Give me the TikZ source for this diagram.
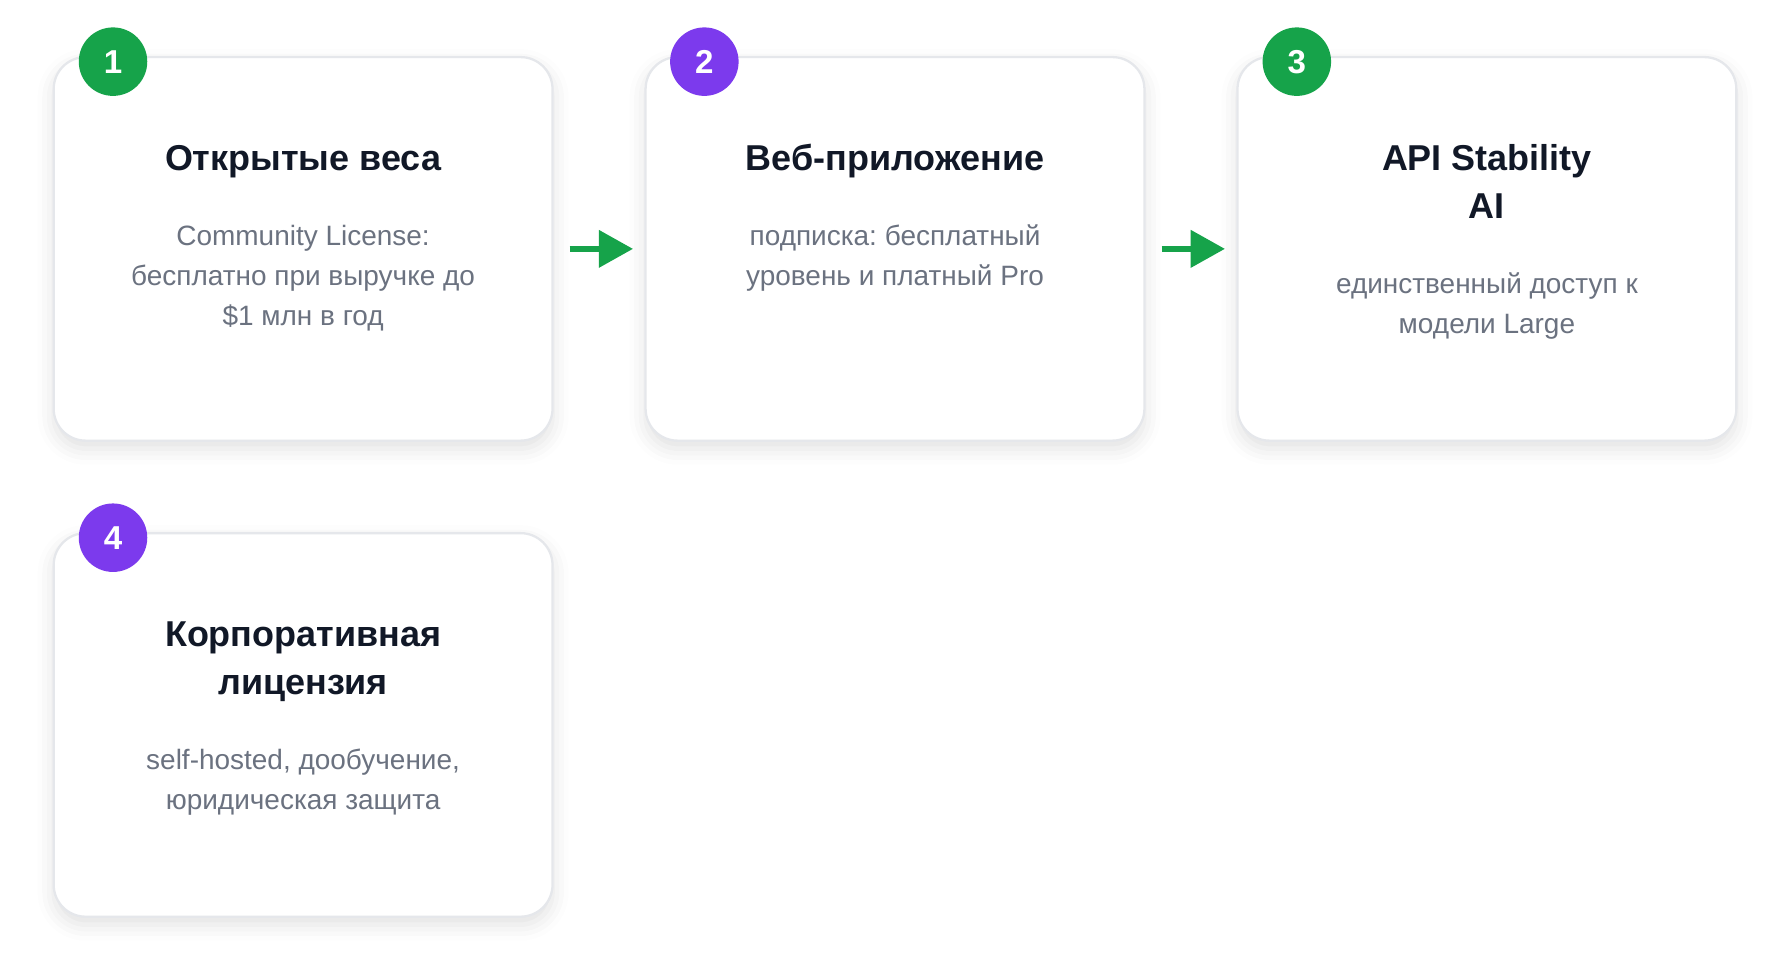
\documentclass[tikz,border=0pt]{standalone}
\usepackage{fontspec}
\setmainfont{Liberation Sans}
\frenchspacing
\usetikzlibrary{shadows.blur,arrows.meta}
\definecolor{cardborder}{HTML}{E5E7EB}
\definecolor{titlecol}{HTML}{111827}
\definecolor{bodycol}{HTML}{6B7280}
\definecolor{greenb}{HTML}{16A34A}
\definecolor{purpleb}{HTML}{7C3AED}
\definecolor{arrowcol}{HTML}{16A34A}
\tikzset{
  card/.style={draw=cardborder, line width=2pt, fill=white, rounded corners=28pt,
    minimum width=437pt, minimum height=336pt, inner sep=0pt,
    blur shadow={shadow xshift=0pt, shadow yshift=-7pt, shadow blur radius=14pt, shadow opacity=12}},
  badge/.style={circle, minimum size=60pt, inner sep=0pt, text=white,
    font=\fontsize{29}{32}\selectfont\bfseries},
  ttl/.style={anchor=base, text=titlecol, inner sep=0pt, font=\fontsize{31.5}{36}\selectfont\bfseries},
  bdy/.style={anchor=base, text=bodycol, inner sep=0pt, font=\fontsize{24.5}{28}\selectfont},
  arr/.style={draw=arrowcol, line width=5pt, -{Triangle[length=30pt,width=32pt]}}
}
\begin{document}
\begin{tikzpicture}[x=1pt,y=-1pt]
\useasboundingbox (0,0) rectangle (1568,856);
% cards
\node[card] (c1) at (265.5,218) {};
\node[card] (c2) at (784,218) {};
\node[card] (c3) at (1302.5,218) {};
\node[card] (c4) at (265.5,635) {};
% badges
\node[badge, fill=greenb] (b1) at (99,54) {1};
\node[badge, fill=purpleb] (b2) at (617,54) {2};
\node[badge, fill=greenb] (b3) at (1136,54) {3};
\node[badge, fill=purpleb] (b4) at (99,471) {4};
% card 1
\node[ttl] (t1) at (265.5,149) {Открытые веса};
\node[bdy] (d1a) at (265.5,215) {Community License:};
\node[bdy] (d1b) at (265.5,250) {бесплатно при выручке до};
\node[bdy] (d1c) at (265.5,285) {\$1 млн в год};
% card 2
\node[ttl] (t2) at (784,149) {Веб-приложение};
\node[bdy] (d2a) at (784,215) {подписка: бесплатный};
\node[bdy] (d2b) at (784,250) {уровень и платный Pro};
% card 3
\node[ttl] (t3a) at (1302.5,149) {API Stability};
\node[ttl] (t3b) at (1302.5,191) {AI};
\node[bdy] (d3a) at (1302.5,257) {единственный доступ к};
\node[bdy] (d3b) at (1302.5,292) {модели Large};
% card 4
\node[ttl] (t4a) at (265.5,566) {Корпоративная};
\node[ttl] (t4b) at (265.5,608) {лицензия};
\node[bdy] (d4a) at (265.5,674) {self-hosted, дообучение,};
\node[bdy] (d4b) at (265.5,709) {юридическая защита};
% arrows
\draw[arr] ([xshift=14pt]c1.east) -- ([xshift=-10pt]c2.west);
\draw[arr] ([xshift=14pt]c2.east) -- ([xshift=-10pt]c3.west);
\end{tikzpicture}
\end{document}
